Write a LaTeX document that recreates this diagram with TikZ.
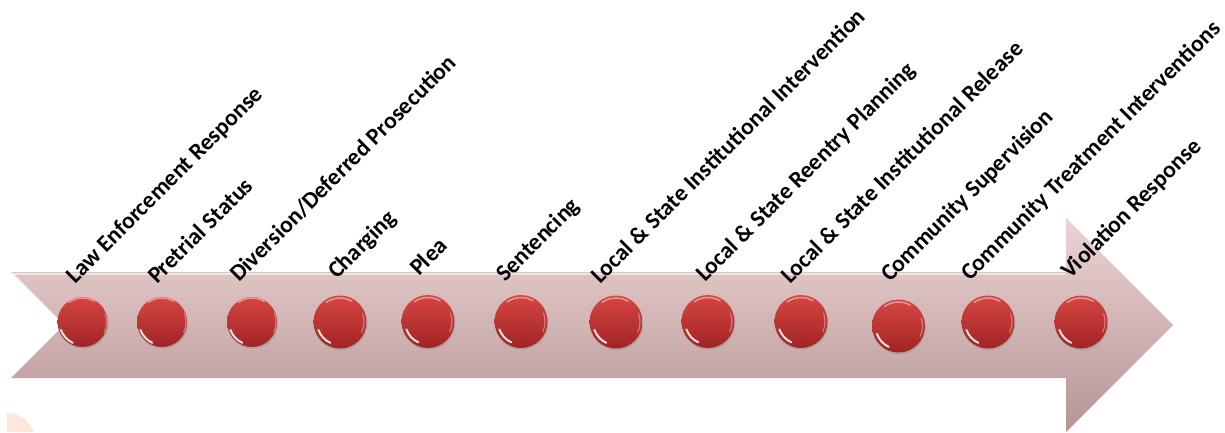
\documentclass[tikz,border=0pt]{standalone}
\usepackage{fontspec}
\setmainfont{Carlito}
\usetikzlibrary{shadows}
\definecolor{arrtop}{RGB}{236,212,212}
\definecolor{arrbot}{RGB}{182,148,148}
\definecolor{balltop}{RGB}{214,70,66}
\definecolor{ballbot}{RGB}{160,36,36}
\definecolor{peach}{RGB}{251,231,222}
\begin{document}
\begin{tikzpicture}[x=1pt,y=-1pt,
  lbl/.style={rotate=45,anchor=base west,inner sep=0pt,
    font=\fontsize{23.5}{23.5}\selectfont\bfseries,text=black},
  ball/.style={circle,minimum size=53pt,inner sep=0pt,
    top color=balltop,bottom color=ballbot,
    drop shadow={shadow xshift=0.8pt,shadow yshift=-1.8pt,opacity=.3},
    path picture={
      \draw[white,line width=2pt,line cap=round,opacity=.85]
        (path picture bounding box.center) ++(200:23pt)
        arc[start angle=200,end angle=245,radius=23pt];
      \draw[white,line width=1.5pt,line cap=round,opacity=.45]
        (path picture bounding box.center) ++(60:24pt)
        arc[start angle=60,end angle=125,radius=24pt];
      \draw[white,line width=1.2pt,line cap=round,opacity=.35]
        (path picture bounding box.center) ++(-25:24pt)
        arc[start angle=-25,end angle=20,radius=24pt];
    }}]
\useasboundingbox (0,0) rectangle (1225,432);
% faint shape bottom-left
\fill[peach] (7,432) -- (7,413) to[out=0,in=115] (34,432) -- cycle;
% big arrow
\shade[top color=arrtop,bottom color=arrbot]
  (11,272) -- (1066,272) -- (1066,218) -- (1173,325) -- (1066,432)
  -- (1066,378) -- (11,378) -- (64,325) -- cycle;
\draw[white,opacity=.55,line width=1.5pt] (12,274) -- (1066,274);
\draw[white,opacity=.55,line width=1.2pt] (13,273.5) -- (62,323);
% balls
\node[ball,minimum size=50pt] (c1) at (82.5,322) {};
\node[ball,minimum size=50pt] (c2) at (162,322) {};
\node[ball,minimum size=50pt] (c3) at (252,322) {};
\node[ball] (c4) at (340,322) {};
\node[ball] (c5) at (428,321.5) {};
\node[ball] (c6) at (521,321.5) {};
\node[ball] (c7) at (616,322) {};
\node[ball] (c8) at (708,321.5) {};
\node[ball] (c9) at (801,321.5) {};
\node[ball] (c10) at (898.5,326) {};
\node[ball] (c11) at (988,322) {};
\node[ball] (c12) at (1081,322) {};
% labels
\node[lbl] (l1) at (75,285) {Law Enforcement Response};
\node[lbl] (l2) at (157,285) {Pretrial Status};
\node[lbl] (l3) at (239,283) {Diversion/Deferred Prosecution};
\node[lbl] (l4) at (337,280) {Charging};
\node[lbl] (l5) at (419,277) {Plea};
\node[lbl] (l6) at (505,283) {Sentencing};
\node[lbl] (l7) at (600,285) {Local \& State Institutional Intervention};
\node[lbl] (l8) at (705,283) {Local \& State Reentry Planning};
\node[lbl] (l9) at (790,285) {Local \& State Institutional Release};
\node[lbl] (l10) at (890,283) {Community Supervision};
\node[lbl] (l11) at (970,282) {Community Treatment Interventions};
\node[lbl] (l12) at (1070,280) {Violation Response};
\end{tikzpicture}
\end{document}
